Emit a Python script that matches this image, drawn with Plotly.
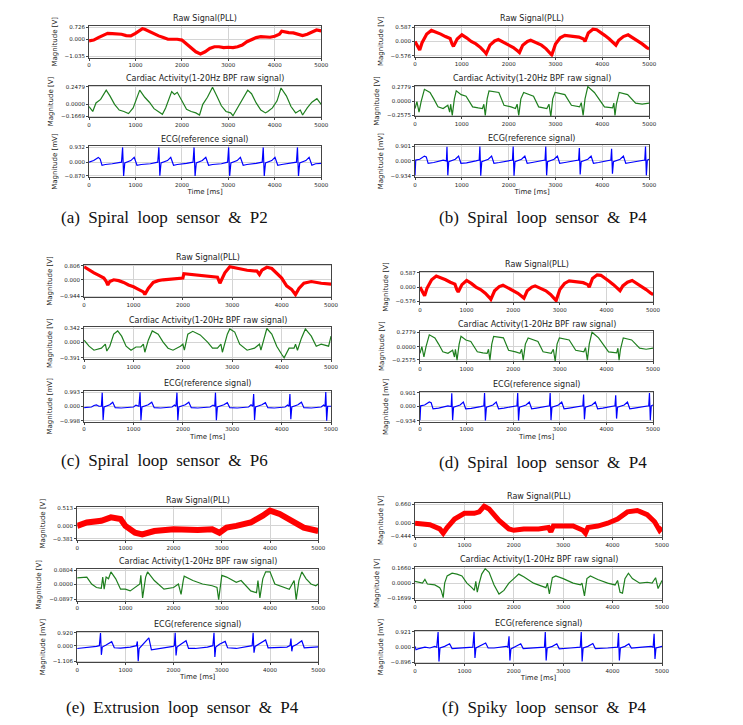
import plotly.graph_objects as go

W, H = 743, 725
OFF = 8  # page body margin of the browser shifts the figure by this many pixels

# ---------------- data (time [ms], value) ----------------
# (a) Spiral loop sensor & P2
RAW_A = [(0,-0.1),(100,-0.05),(200,0.1),(300,0.25),(400,0.35),(500,0.33),(600,0.3),(700,0.3),(800,0.22),(900,0.2),
         (1000,0.35),(1100,0.55),(1150,0.63),(1200,0.6),(1300,0.45),(1400,0.3),(1500,0.2),(1600,0.1),(1700,0.0),(1800,0.0),
         (1900,0.0),(2000,-0.05),(2100,-0.3),(2200,-0.55),(2300,-0.75),(2400,-0.88),(2500,-0.75),(2600,-0.55),(2700,-0.45),
         (2800,-0.45),(2900,-0.5),(3000,-0.48),(3100,-0.5),(3200,-0.45),(3300,-0.35),(3400,-0.15),(3500,0.0),(3600,0.1),
         (3700,0.15),(3800,0.15),(3900,0.12),(4000,0.18),(4100,0.3),(4150,0.48),(4200,0.45),(4300,0.4),(4400,0.38),
         (4500,0.3),(4600,0.22),(4700,0.3),(4800,0.45),(4900,0.55),(5000,0.5)]
CARD_A = [(0,-0.03),(80,-0.1),(150,0.02),(250,0.07),(370,0.2),(450,0.12),(550,0.0),(650,-0.08),(750,-0.1),(850,-0.13),
          (950,-0.05),(1092,0.2),(1200,0.1),(1300,0.03),(1400,-0.06),(1500,-0.1),(1580,-0.14),(1650,-0.05),(1780,0.18),
          (1840,0.14),(1900,0.17),(2000,0.05),(2100,-0.07),(2200,-0.1),(2300,-0.12),(2380,-0.15),(2450,0.0),(2550,0.1),
          (2660,0.24),(2750,0.12),(2850,-0.02),(2950,-0.1),(3050,-0.12),(3100,-0.16),(3200,-0.05),(3300,0.05),(3418,0.2),
          (3500,0.15),(3600,0.02),(3700,-0.08),(3800,-0.12),(3850,-0.1),(3950,-0.05),(4050,0.05),(4135,0.23),(4250,0.12),
          (4350,-0.03),(4450,-0.12),(4550,-0.08),(4600,-0.15),(4700,-0.05),(4800,0.03),(4908,0.08),(5000,0.0)]
ECG_A = [(0,0.0),(100,0.1),(200,0.3),(240,0.2),(280,-0.2),(350,-0.15),(500,-0.1),(650,-0.05),
         (700,0.0),(723,0.93),(745,-0.87),(770,-0.05),(900,0.1),(973,0.3),(1033,-0.2),(1123,-0.15),(1320,-0.1),
         (1480,0.0),(1504,0.93),(1525,-0.85),(1550,-0.05),(1690,0.1),(1760,0.3),(1820,-0.2),(1900,-0.15),(2100,-0.08),
         (2240,0.0),(2262,0.93),(2284,-0.87),(2310,-0.05),(2440,0.1),(2515,0.3),(2575,-0.2),(2660,-0.15),(2850,-0.1),
         (2985,0.0),(3007,0.93),(3029,-0.87),(3055,-0.05),(3190,0.1),(3260,0.3),(3320,-0.2),(3400,-0.15),(3600,-0.08),
         (3730,0.0),(3752,0.93),(3774,-0.87),(3800,-0.05),(3935,0.1),(4005,0.3),(4065,-0.2),(4150,-0.15),(4350,-0.08),
         (4467,0.0),(4489,0.93),(4511,-0.87),(4537,-0.05),(4670,0.1),(4740,0.3),(4800,-0.2),(4880,-0.1),(5000,-0.08)]

# (b) and (d) Spiral loop sensor & P4 (same recording)
RAW_B = [(0,0.0),(60,-0.25),(100,-0.35),(150,-0.05),(250,0.3),(350,0.45),(450,0.38),(550,0.3),(650,0.2),(750,0.12),
         (790,-0.1),(820,-0.2),(900,0.1),(1000,0.27),(1100,0.15),(1200,0.0),(1300,-0.1),(1400,-0.25),(1500,-0.45),
         (1520,-0.5),(1600,-0.15),(1700,0.02),(1780,0.08),(1900,-0.05),(2000,-0.15),(2100,-0.25),(2200,-0.4),(2230,-0.45),
         (2300,-0.15),(2400,0.0),(2470,0.05),(2600,-0.05),(2700,-0.15),(2800,-0.3),(2900,-0.5),(2920,-0.55),(3000,-0.1),
         (3100,0.15),(3200,0.25),(3300,0.22),(3400,0.2),(3500,0.18),(3600,0.1),(3630,0.0),(3700,0.35),(3800,0.5),
         (3880,0.48),(3950,0.4),(4050,0.25),(4150,0.1),(4250,-0.05),(4290,-0.15),(4350,0.05),(4450,0.2),(4550,0.27),
         (4650,0.15),(4750,0.0),(4850,-0.1),(4950,-0.25),(5000,-0.3)]
CARD_B = [(0,-0.13),(40,0.0),(85,-0.2),(130,0.0),(200,0.23),(320,0.17),(400,0.05),(490,-0.1),(600,-0.13),(700,-0.07),
          (740,-0.2),(760,-0.05),(795,-0.26),(840,0.05),(880,0.2),(985,0.13),(1090,0.1),(1230,-0.1),(1350,-0.12),
          (1440,-0.13),(1470,-0.05),(1500,-0.26),(1540,0.05),(1580,0.2),(1790,0.17),(1900,-0.07),(2050,-0.1),
          (2145,-0.13),(2180,-0.05),(2215,-0.26),(2260,0.05),(2320,0.17),(2530,0.1),(2640,-0.1),(2815,-0.13),
          (2860,-0.05),(2900,-0.28),(2940,0.05),(2990,0.17),(3200,0.13),(3340,-0.07),(3516,-0.1),(3550,-0.02),
          (3590,-0.26),(3630,0.05),(3690,0.28),(3830,0.17),(4045,-0.1),(4220,-0.12),(4245,-0.03),(4270,-0.26),
          (4300,-0.05),(4360,0.17),(4540,0.13),(4710,-0.03),(4850,-0.05),(5000,-0.03)]
ECG_B = [(0,-0.9),(15,0.05),(100,0.1),(200,0.3),(240,0.25),(280,-0.15),(400,-0.1),(550,0.0),(600,0.05),
         (670,0.0),(682,0.88),(700,-0.9),(720,-0.05),(860,0.1),(930,0.3),(980,-0.15),(1100,-0.12),(1300,0.0),
         (1370,0.05),(1385,0.9),(1403,-0.93),(1425,-0.05),(1565,0.1),(1635,0.3),(1685,-0.15),(1800,-0.1),(2000,0.0),
         (2080,0.05),(2096,0.9),(2114,-0.93),(2135,-0.05),(2275,0.1),(2345,0.3),(2395,-0.15),(2500,-0.1),(2700,0.0),
         (2776,0.05),(2792,0.9),(2810,-0.9),(2830,-0.05),(2970,0.1),(3040,0.3),(3090,-0.15),(3200,-0.1),(3400,0.0),
         (3493,0.05),(3509,0.8),(3527,-0.85),(3548,-0.05),(3690,0.1),(3760,0.3),(3810,-0.15),(3920,-0.1),(4100,0.0),
         (4182,0.05),(4198,0.75),(4216,-0.8),(4237,-0.05),(4380,0.1),(4450,0.3),(4500,-0.15),(4600,-0.1),(4800,0.0),
         (4906,0.05),(4922,0.9),(4940,-0.9),(4960,0.05),(5000,0.1)]

# (c) Spiral loop sensor & P6
RAW_C = [(0,0.75),(100,0.55),(200,0.4),(300,0.25),(400,0.1),(450,-0.1),(480,-0.3),(520,-0.1),(600,0.0),(700,-0.05),
         (800,-0.15),(900,-0.3),(1000,-0.4),(1100,-0.55),(1200,-0.7),(1230,-0.85),(1300,-0.5),(1400,-0.15),(1500,-0.05),
         (1600,0.0),(1800,0.05),(2000,0.1),(2020,0.35),(2200,0.3),(2400,0.25),(2600,0.2),(2700,0.15),(2750,-0.2),
         (2800,0.1),(2850,0.4),(2950,0.75),(3100,0.65),(3300,0.55),(3500,0.5),(3550,0.3),(3600,0.55),(3700,0.72),
         (3800,0.65),(3900,0.4),(4000,0.1),(4100,-0.35),(4200,-0.55),(4280,-0.85),(4350,-0.5),(4450,-0.2),(4600,-0.1),
         (4800,-0.2),(5000,-0.25)]
CARD_C = [(0,0.05),(100,-0.1),(200,-0.2),(350,-0.15),(430,-0.05),(460,-0.22),(520,-0.1),(600,0.2),(680,0.28),(760,0.15),
          (850,-0.1),(950,-0.2),(1050,-0.12),(1150,-0.12),(1200,-0.05),(1230,-0.25),(1300,0.05),(1380,0.28),(1500,0.2),
          (1600,0.0),(1700,-0.15),(1800,-0.2),(1950,-0.1),(2000,-0.05),(2030,-0.2),(2100,0.2),(2200,0.27),(2350,0.18),
          (2500,0.0),(2600,-0.15),(2700,-0.15),(2770,-0.05),(2800,-0.25),(2900,0.2),(2950,0.33),(3050,0.25),(3150,-0.05),
          (3300,-0.2),(3450,-0.15),(3550,-0.05),(3580,-0.2),(3700,0.34),(3800,0.2),(3900,-0.1),(4000,-0.3),(4050,-0.39),
          (4150,-0.15),(4250,-0.15),(4280,-0.05),(4320,-0.2),(4400,0.1),(4480,0.33),(4600,0.15),(4700,-0.1),(4800,-0.05),
          (4950,-0.1),(5000,0.15)]
ECG_C = [(0,-0.1),(150,-0.05),(200,0.05),(250,0.1),(300,0.0),
         (350,0.0),(367,0.95),(385,-0.95),(405,-0.05),(520,0.1),(580,0.28),(630,-0.1),(750,-0.12),(1000,-0.05),(1050,0.08),(1110,0.0),
         (1133,0.98),(1151,-0.98),(1171,-0.05),(1300,0.1),(1370,0.28),(1420,-0.1),(1550,-0.12),(1780,-0.05),(1830,0.08),(1860,0.0),
         (1880,0.95),(1898,-0.97),(1918,-0.05),(2050,0.1),(2120,0.28),(2170,-0.1),(2300,-0.12),(2550,-0.05),(2610,0.08),(2645,0.0),
         (2660,0.95),(2678,-0.97),(2698,-0.05),(2830,0.1),(2900,0.25),(2950,-0.1),(3100,-0.12),(3330,-0.05),(3380,0.1),(3415,0.0),
         (3433,0.85),(3451,-0.95),(3471,-0.05),(3600,0.1),(3670,0.25),(3720,-0.1),(3850,-0.12),(4070,-0.05),(4120,0.08),(4150,0.0),
         (4167,0.85),(4185,-0.9),(4205,-0.05),(4330,0.1),(4400,0.28),(4450,-0.1),(4600,-0.12),(4800,-0.05),(4850,0.08),(4878,0.0),
         (4893,0.99),(4911,-1.0),(4931,0.0),(5000,0.0)]

# (e) Extrusion loop sensor & P4
RAW_E = [(0,0.0),(200,0.1),(500,0.15),(700,0.25),(900,0.2),(1000,0.0),(1200,-0.2),(1350,-0.25),(1600,-0.15),(2000,-0.1),
         (2500,-0.12),(2800,-0.1),(2950,-0.2),(3100,-0.05),(3300,0.0),(3600,0.1),(3850,0.3),(4000,0.45),(4200,0.35),
         (4500,0.1),(4700,-0.05),(5000,-0.15)]
CARD_E = [(0,0.035),(200,0.04),(300,0.0),(400,-0.02),(500,-0.025),(530,0.04),(560,-0.03),(600,0.04),(650,0.03),(700,0.07),
          (800,0.03),(900,-0.03),(1000,-0.03),(1100,-0.04),(1300,0.0),(1320,0.05),(1357,-0.08),(1420,0.04),(1460,0.07),
          (1600,0.02),(1800,-0.03),(2000,-0.02),(2100,0.0),(2155,-0.06),(2200,0.02),(2220,0.045),(2400,0.02),(2600,0.0),
          (2800,-0.01),(2900,-0.02),(2935,-0.09),(3000,0.05),(3100,0.04),(3300,0.01),(3400,0.02),(3500,-0.01),(3600,-0.04),
          (3720,-0.05),(3750,0.02),(3790,-0.08),(3850,0.03),(3910,0.07),(4000,0.07),(4100,0.0),(4300,-0.02),(4400,-0.03),
          (4500,0.02),(4543,-0.09),(4600,0.02),(4660,0.07),(4750,0.03),(4850,0.0),(4950,-0.01),(5000,0.0)]
ECG_E = [(0,-0.2),(200,-0.15),(400,-0.05),(460,0.0),
         (484,0.9),(502,-0.65),(520,-0.1),(600,0.05),(716,0.28),(770,-0.15),(900,-0.18),(1100,-0.1),(1200,-0.05),(1230,0.0),
         (1248,0.3),(1266,-1.1),(1285,-0.2),(1350,0.05),(1420,0.3),(1487,0.55),(1540,-0.3),(1650,-0.25),(1800,-0.15),(1990,-0.05),(2015,0.0),
         (2033,0.92),(2051,-0.7),(2070,-0.1),(2150,0.1),(2258,0.35),(2310,-0.2),(2450,-0.2),(2700,-0.1),(2815,0.0),
         (2838,0.92),(2856,-0.8),(2875,-0.1),(2950,0.1),(3070,0.3),(3120,-0.15),(3300,-0.2),(3500,-0.1),(3630,0.0),
         (3650,0.92),(3668,-0.5),(3690,-0.05),(3780,0.15),(3909,0.4),(3960,-0.15),(4100,-0.15),(4350,-0.1),(4415,0.0),
         (4434,0.5),(4452,-0.4),(4470,-0.05),(4560,0.1),(4659,0.35),(4710,-0.15),(4850,-0.1),(5000,-0.08)]

# (f) Spiky loop sensor & P4
RAW_F = [(0,0.0),(300,-0.05),(500,-0.2),(570,-0.35),(650,-0.15),(800,0.15),(1000,0.35),(1200,0.35),(1300,0.4),(1400,0.6),
         (1500,0.5),(1700,0.1),(1900,-0.2),(2000,-0.25),(2200,-0.2),(2500,-0.2),(2700,-0.15),(2750,-0.3),(2800,-0.1),
         (3000,-0.1),(3200,-0.1),(3400,-0.25),(3450,-0.35),(3500,-0.15),(3700,-0.1),(3900,0.0),(4100,0.15),(4300,0.4),
         (4500,0.45),(4700,0.3),(4850,0.05),(4950,-0.25),(5000,-0.15)]
CARD_F = [(0,0.02),(150,0.0),(200,0.04),(250,-0.01),(400,-0.02),(500,-0.05),(530,-0.08),(550,-0.11),(570,-0.16),(600,0.0),
          (650,0.08),(750,0.11),(850,0.1),(950,0.08),(1050,0.0),(1150,-0.05),(1200,-0.08),(1230,0.02),(1260,-0.1),(1300,0.0),
          (1350,0.1),(1420,0.16),(1500,0.12),(1600,-0.02),(1700,-0.12),(1800,-0.08),(1900,0.0),(2000,0.05),(2100,0.1),
          (2200,0.07),(2400,0.0),(2550,-0.03),(2650,-0.05),(2680,0.0),(2720,-0.12),(2780,0.06),(2850,0.08),(3000,0.05),
          (3200,0.0),(3350,-0.02),(3380,0.0),(3430,-0.14),(3480,0.05),(3550,0.08),(3700,0.04),(3900,0.0),(4050,-0.02),
          (4100,0.03),(4150,-0.1),(4200,-0.11),(4250,0.05),(4320,0.11),(4400,0.05),(4550,0.0),(4700,0.01),(4800,0.0),
          (4870,0.06),(4920,-0.06),(5000,0.03)]
ECG_F = [(0,0.05),(20,-0.15),(60,-0.1),(200,0.0),(300,-0.05),(400,0.05),(440,0.0),
         (467,0.9),(485,-0.85),(505,-0.05),(600,0.05),(700,0.2),(750,-0.08),(900,-0.05),(1100,0.0),(1170,0.0),
         (1195,0.92),(1213,-0.65),(1233,-0.05),(1330,0.1),(1430,0.25),(1480,-0.05),(1600,-0.05),(1850,0.05),(1880,0.0),
         (1903,0.65),(1921,-0.8),(1941,-0.1),(2050,0.05),(2140,0.2),(2190,-0.08),(2400,-0.05),(2600,0.0),(2620,0.0),
         (2637,0.9),(2655,-0.8),(2675,-0.05),(2780,0.05),(2870,0.2),(2920,-0.1),(3150,-0.05),(3330,0.0),(3345,0.0),
         (3365,0.9),(3383,-0.85),(3403,-0.05),(3500,0.05),(3600,0.22),(3650,-0.08),(3900,-0.05),(4090,0.0),(4100,0.0),
         (4119,0.85),(4137,-0.8),(4157,-0.05),(4250,0.05),(4330,0.2),(4380,-0.05),(4600,0.0),(4780,0.05),(4820,0.0),
         (4840,0.8),(4858,-0.7),(4878,-0.05),(5000,0.05)]

# y tick values (min, max, decimals) for raw, cardiac, ECG of each panel
TICKS_A = [(-1.035, 0.726, 3), (-0.1669, 0.2479, 4), (-0.870, 0.932, 3)]
TICKS_B = [(-0.576, 0.587, 3), (-0.2575, 0.2779, 4), (-0.934, 0.901, 3)]
TICKS_C = [(-0.944, 0.806, 3), (-0.391, 0.342, 3), (-0.998, 0.993, 3)]
TICKS_E = [(-0.381, 0.513, 3), (-0.0897, 0.0804, 4), (-1.106, 0.920, 3)]
TICKS_F = [(-0.444, 0.660, 3), (-0.1699, 0.1660, 4), (-0.896, 0.921, 3)]

X_TICKS = [0, 1000, 2000, 3000, 4000, 5000]
SUB_TITLES = ["Raw Signal(PLL)", "Cardiac Activity(1-20Hz BPF raw signal)", "ECG(reference signal)"]
Y_LABELS = ["Magnitude [V]", "Magnitude [V]", "Magnitude [mV]"]
CAPTIONS = ["(a) Spiral loop sensor & P2", "(b) Spiral loop sensor & P4", "(c) Spiral loop sensor & P6",
            "(d) Spiral loop sensor & P4", "(e) Extrusion loop sensor & P4", "(f) Spiky loop sensor & P4"]

# ---------------- layout (pixel boxes in the target picture) ----------------
PANELS = [
    dict(x=(88, 323), rows=[(24, 56), (84, 116), (145, 176)], cap=(164, 217), raw=RAW_A, card=CARD_A, ecg=ECG_A, ticks=TICKS_A, rw=3.2),
    dict(x=(418, 655), rows=[(24, 55), (84, 115), (144, 176)], cap=(548, 217), raw=RAW_B, card=CARD_B, ecg=ECG_B, ticks=TICKS_B, rw=3.2),
    dict(x=(83, 333), rows=[(264, 297), (327, 359), (391, 422)], cap=(164, 461), raw=RAW_C, card=CARD_C, ecg=ECG_C, ticks=TICKS_C, rw=3.2),
    dict(x=(423, 659), rows=[(271, 302), (331, 361), (392, 422)], cap=(548, 463), raw=RAW_B, card=CARD_B, ecg=ECG_B, ticks=TICKS_B, rw=3.2),
    dict(x=(76, 320), rows=[(508, 541), (570, 602), (633, 664)], cap=(183, 709), raw=RAW_E, card=CARD_E, ecg=ECG_E, ticks=TICKS_E, rw=6),
    dict(x=(418, 668), rows=[(504, 538), (568, 601), (632, 665)], cap=(549, 709), raw=RAW_F, card=CARD_F, ecg=ECG_F, ticks=TICKS_F, rw=5),
]

COLORS = ["#ff0000", "#1f7f1f", "#0000ff"]
FONT = "DejaVu Sans"


def fx(px):
    return (px - OFF) / W


def fy(px):
    return 1 - (px - OFF) / H


def fmt(v, d):
    s = f"{abs(v):.{d}f}"
    return ("\u2212" + s) if v < 0 else s


fig = go.Figure()
lay = dict(width=W, height=H, margin=dict(l=0, r=0, t=0, b=0), paper_bgcolor="white",
           plot_bgcolor="white", showlegend=False, annotations=[])

k = 0
for p in PANELS:
    x0, x1 = p["x"]
    series = [p["raw"], p["card"], p["ecg"]]
    for r in range(3):
        k += 1
        top, bot = p["rows"][r]
        lo, hi, dec = p["ticks"][r]
        pad = 0.04 * (hi - lo)
        xs = [t for t, _ in series[r]]
        ys = [v for _, v in series[r]]
        width = p["rw"] if r == 0 else 1.2
        fig.add_trace(go.Scatter(x=xs, y=ys, mode="lines", xaxis=f"x{k}", yaxis=f"y{k}",
                                 line=dict(color=COLORS[r], width=width), hoverinfo="skip"))
        xa = dict(domain=[fx(x0), fx(x1)], anchor=f"y{k}", range=[0, 5000],
                  tickvals=X_TICKS, ticktext=[str(v) for v in X_TICKS],
                  tickfont=dict(family=FONT, size=5.5, color="#222"),
                  showgrid=True, gridcolor="#d4d4d4", gridwidth=1, zeroline=False,
                  showline=True, linecolor="#444", linewidth=1, mirror=True,
                  ticks="outside", ticklen=2, tickcolor="#444")
        if r == 2:
            xa["title"] = dict(text="Time [ms]", font=dict(family=FONT, size=7, color="#222"), standoff=2)
        ya = dict(domain=[fy(bot), fy(top)], anchor=f"x{k}", range=[lo - pad, hi + pad],
                  tickvals=[lo, 0, hi], ticktext=[fmt(lo, dec), fmt(0.0, dec), fmt(hi, dec)],
                  tickfont=dict(family=FONT, size=5.5, color="#222"),
                  showgrid=True, gridcolor="#d4d4d4", gridwidth=1, zeroline=False,
                  showline=True, linecolor="#444", linewidth=1, mirror=True,
                  ticks="outside", ticklen=2, tickcolor="#444",
                  title=dict(text=Y_LABELS[r], font=dict(family=FONT, size=7, color="#222"), standoff=6))
        lay[f"xaxis{k}"] = xa
        lay[f"yaxis{k}"] = ya
        lay["annotations"].append(dict(text=SUB_TITLES[r], xref="paper", yref="paper",
                                       x=fx((x0 + x1) / 2), y=fy(top - 7),
                                       xanchor="center", yanchor="middle", showarrow=False,
                                       font=dict(family=FONT, size=8, color="#222")))

for i, p in enumerate(PANELS):
    cx, cy = p["cap"]
    lay["annotations"].append(dict(text=CAPTIONS[i].replace(" ", "\u00a0\u00a0").replace("(\u00a0", "("),
                                   xref="paper", yref="paper", x=fx(cx), y=fy(cy),
                                   xanchor="center", yanchor="middle", showarrow=False,
                                   font=dict(family="Liberation Serif", size=17, color="#111")))

fig.update_layout(**lay)
fig.write_html("out.html")
